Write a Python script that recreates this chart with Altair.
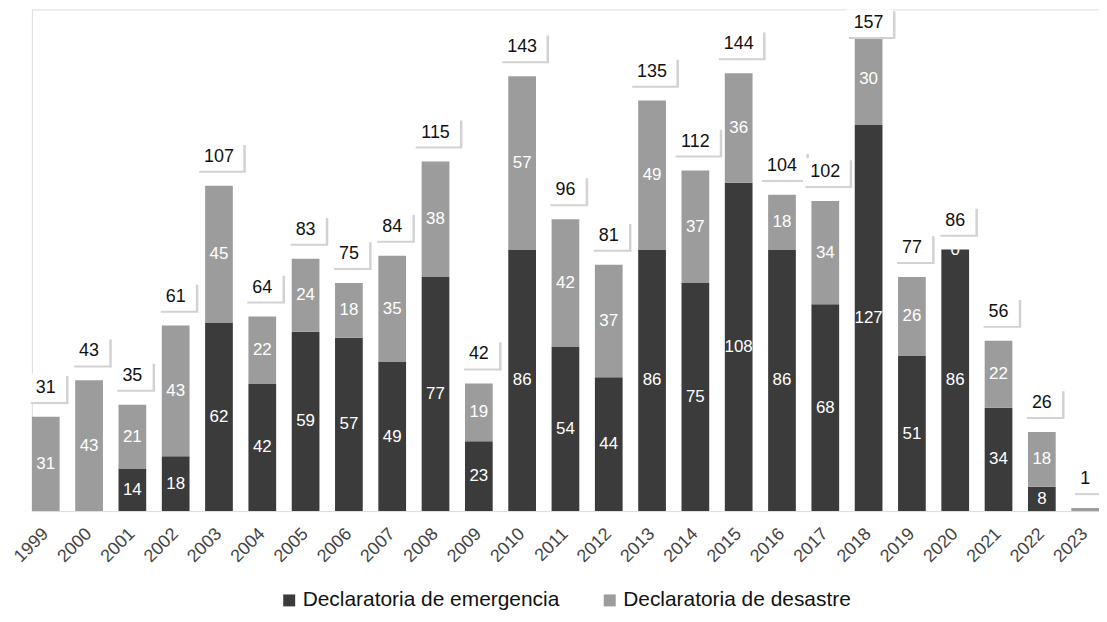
import altair as alt
import pandas as pd

years = [str(y) for y in range(1999, 2024)]
emergencia = [0, 0, 14, 18, 62, 42, 59, 57, 49, 77, 23, 86, 54, 44, 86, 75, 108, 86, 68, 127, 51, 86, 34, 8, 0]
desastre = [31, 43, 21, 43, 45, 22, 24, 18, 35, 38, 19, 57, 42, 37, 49, 37, 36, 18, 34, 30, 26, 0, 22, 18, 1]

S_EM = "Declaratoria de emergencia"
S_DE = "Declaratoria de desastre"

rows = []
for i, y in enumerate(years):
    e, d = emergencia[i], desastre[i]
    rows.append({"year": y, "serie": S_EM, "order": 0, "value": e, "y0": 0, "y1": e,
                 "show": e > 0})
    rows.append({"year": y, "serie": S_DE, "order": 1, "value": d, "y0": e, "y1": e + d,
                 "show": (d > 1) or (d == 0 and e > 0)})
df = pd.DataFrame(rows)
df["mid"] = (df["y0"] + df["y1"]) / 2

tot = pd.DataFrame({"year": years, "total": [e + d for e, d in zip(emergencia, desastre)]})

FONT = "Liberation Sans"

x = alt.X("year:N", sort=years,
          scale=alt.Scale(paddingInner=0.36, paddingOuter=0),
          axis=alt.Axis(title=None, labelAngle=315, labelAlign="right", labelBaseline="middle",
                        labelFontSize=18, labelColor="#444444", labelFont=FONT,
                        domain=False, ticks=False, labelPadding=20, grid=False))
yscale = alt.Scale(domain=[0, 165], nice=False)

bars = alt.Chart(df).mark_bar().encode(
    x=x,
    y=alt.Y("y0:Q", scale=yscale, axis=None),
    y2="y1:Q",
    color=alt.Color("serie:N", sort=[S_EM, S_DE],
                    scale=alt.Scale(domain=[S_EM, S_DE], range=["#3b3b3b", "#9c9c9c"]),
                    legend=alt.Legend(title=None, orient="none", direction="horizontal",
                                      legendX=248, legendY=583, symbolType="square",
                                      symbolSize=144, symbolStrokeWidth=0,
                                      labelFontSize=21, labelFont=FONT, labelColor="#111111",
                                      labelLimit=0, columnPadding=40, labelOffset=3)),
    order="order:Q",
)

inner = alt.Chart(df).transform_filter("datum.show").mark_text(
    color="white", fontSize=17, font=FONT
).encode(x=x, y=alt.Y("mid:Q", scale=yscale), text="value:Q")

path2 = "M-1.25,-1H1.45V1H-1.25Z"
path1 = "M-0.9,-1H1.1V1H-0.9Z"
path3 = "M-1.6,-1H1.75V1H-1.6Z"
shape_scale = alt.Scale(domain=["1", "2", "3"], range=[path1, path2, path3])

base_t = alt.Chart(tot).transform_calculate(
    ly="min(datum.total, 151)",
    digits="'' + length('' + datum.total)",
)
yl = alt.Y("ly:Q", scale=yscale)
shadow = base_t.mark_point(size=784, filled=True, color="#d2d2d2",
                           opacity=1, yOffset=-27, xOffset=2.5).encode(
    x=x, y=yl, shape=alt.Shape("digits:N", scale=shape_scale, legend=None))
box = base_t.mark_point(size=784, filled=True, color="white",
                        opacity=1, yOffset=-29).encode(
    x=x, y=yl, shape=alt.Shape("digits:N", scale=shape_scale, legend=None))
tlabel = base_t.mark_text(fontSize=18, font=FONT, color="#111111", yOffset=-29).encode(
    x=x, y=yl, text="total:Q")

chart = alt.layer(bars, inner, shadow, box, tlabel).properties(
    width=1072, height=504,
    autosize=alt.AutoSizeParams(type="none"),
    padding={"left": 24, "top": 0, "right": 0, "bottom": 102},
).configure_view(stroke=None).configure(background="white")

chart.save("out.html", embed_options={"renderer": "svg", "actions": False})
